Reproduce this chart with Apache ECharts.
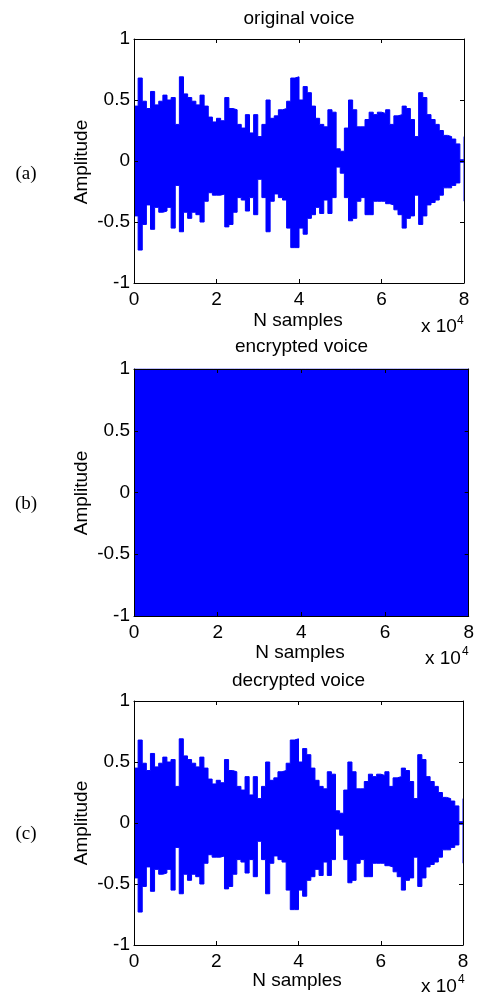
<!DOCTYPE html>
<html>
<head>
<meta charset="utf-8">
<script src="https://cdn.jsdelivr.net/npm/echarts@6/dist/echarts.min.js"></script>
<style>
  html, body { margin: 0; padding: 0; background: #fff; }
  #chart { width: 477px; height: 994px; }
</style>
</head>
<body>
<div id="chart"></div>
<script>
// one envelope value per 1000 samples, the last one sits at 80000
var sampleStep = 1000;
var xMax = 80000;
var xInterval = 20000;
var panelTitles = ['original voice', 'encrypted voice', 'decrypted voice'];
var panelTags = ['(a)', '(b)', '(c)'];

// upper / lower envelope of the original voice
var originalUpper = [
  0.45, 0.68, 0.49, 0.43, 0.57, 0.46, 0.49, 0.54, 0.50, 0.52,
  0.30, 0.69, 0.55, 0.52, 0.49, 0.46, 0.54, 0.45, 0.36, 0.32,
  0.35, 0.33, 0.52, 0.43, 0.42, 0.30, 0.27, 0.38, 0.23, 0.38,
  0.20, 0.30, 0.50, 0.35, 0.37, 0.42, 0.43, 0.49, 0.68, 0.69,
  0.50, 0.61, 0.56, 0.45, 0.35, 0.30, 0.28, 0.42, 0.40, 0.10,
  0.08, 0.27, 0.50, 0.42, 0.28, 0.28, 0.34, 0.40, 0.38, 0.40,
  0.39, 0.42, 0.30, 0.37, 0.38, 0.45, 0.43, 0.34, 0.20, 0.56,
  0.52, 0.38, 0.34, 0.30, 0.25, 0.21, 0.20, 0.18, 0.14, 0.01,
  0.20
];
var originalLower = [
  -0.45, -0.73, -0.52, -0.36, -0.56, -0.38, -0.42, -0.41, -0.38, -0.55,
  -0.20, -0.58, -0.42, -0.47, -0.42, -0.44, -0.50, -0.33, -0.26, -0.28,
  -0.28, -0.27, -0.54, -0.52, -0.42, -0.30, -0.32, -0.41, -0.30, -0.44,
  -0.15, -0.30, -0.58, -0.33, -0.27, -0.30, -0.32, -0.55, -0.71, -0.71,
  -0.55, -0.60, -0.47, -0.44, -0.38, -0.43, -0.32, -0.43, -0.30, -0.05,
  -0.10, -0.30, -0.49, -0.47, -0.33, -0.30, -0.44, -0.44, -0.33, -0.33,
  -0.33, -0.35, -0.36, -0.40, -0.44, -0.55, -0.47, -0.45, -0.28, -0.52,
  -0.45, -0.36, -0.34, -0.32, -0.28, -0.22, -0.22, -0.20, -0.18, -0.01,
  -0.33
];

// encrypted voice fills the whole range
var encryptedUpper = [
  1, 1, 1, 1, 1, 1, 1, 1, 1, 1,
  1, 1, 1, 1, 1, 1, 1, 1, 1, 1,
  1, 1, 1, 1, 1, 1, 1, 1, 1, 1,
  1, 1, 1, 1, 1, 1, 1, 1, 1, 1,
  1, 1, 1, 1, 1, 1, 1, 1, 1, 1,
  1, 1, 1, 1, 1, 1, 1, 1, 1, 1,
  1, 1, 1, 1, 1, 1, 1, 1, 1, 1,
  1, 1, 1, 1, 1, 1, 1, 1, 1, 1,
  1
];
var encryptedLower = [
  -1, -1, -1, -1, -1, -1, -1, -1, -1, -1,
  -1, -1, -1, -1, -1, -1, -1, -1, -1, -1,
  -1, -1, -1, -1, -1, -1, -1, -1, -1, -1,
  -1, -1, -1, -1, -1, -1, -1, -1, -1, -1,
  -1, -1, -1, -1, -1, -1, -1, -1, -1, -1,
  -1, -1, -1, -1, -1, -1, -1, -1, -1, -1,
  -1, -1, -1, -1, -1, -1, -1, -1, -1, -1,
  -1, -1, -1, -1, -1, -1, -1, -1, -1, -1,
  -1
];

// decrypted voice comes back the same as the original
var decryptedUpper = originalUpper.slice();
var decryptedLower = originalLower.slice();

var envelopes = [
  [originalUpper, originalLower],
  [encryptedUpper, encryptedLower],
  [decryptedUpper, decryptedLower]
];

var font = '"Liberation Sans", Arial, Helvetica, sans-serif';
var blue = '#0000ff';

var grids = [
  { left: 134, top: 39, width: 330, height: 244 },
  { left: 134, top: 369, width: 335, height: 247 },
  { left: 134, top: 701, width: 329, height: 244 }
];
// text positions for each panel
var layout = [
  { titleY: 19, nameX: 298, nameY: 321, tagY: 174, ampY: 162, x10X: 421, x10Y: 327, supX: 457, supY: 321 },
  { titleY: 347, nameX: 300, nameY: 653, tagY: 504, ampY: 493, x10X: 425, x10Y: 659, supX: 462, supY: 652 },
  { titleY: 681, nameX: 297, nameY: 981, tagY: 834, ampY: 823, x10X: 421, x10Y: 987, supX: 458, supY: 980 }
];

function toPoints(values) {
  return values.map(function (v, i) { return [i * sampleStep, v]; });
}

var xAxes = [], yAxes = [], series = [], graphics = [];

grids.forEach(function (g, i) {
  var lineStyle = { color: '#000', width: 1 };
  var frameLine = { show: true, onZero: false, lineStyle: lineStyle };
  var tick = { show: true, inside: true, length: 4, lineStyle: lineStyle };
  xAxes.push({
    gridIndex: i, type: 'value', min: 0, max: xMax, interval: xInterval, position: 'bottom',
    axisLine: frameLine, axisTick: tick,
    axisLabel: { color: '#000', fontSize: 19, fontFamily: font, margin: 7,
      formatter: function (v) { return String(v / 10000); } },
    splitLine: { show: false }, z: 5
  });
  xAxes.push({
    gridIndex: i, type: 'value', min: 0, max: xMax, interval: xInterval, position: 'top',
    axisLine: frameLine, axisTick: tick,
    axisLabel: { show: false }, splitLine: { show: false }, z: 5
  });
  yAxes.push({
    gridIndex: i, type: 'value', min: -1, max: 1, interval: 0.5, position: 'left',
    axisLine: frameLine, axisTick: tick,
    axisLabel: { color: '#000', fontSize: 19, fontFamily: font, margin: 4 },
    splitLine: { show: false }, z: 5
  });
  yAxes.push({
    gridIndex: i, type: 'value', min: -1, max: 1, interval: 0.5, position: 'right',
    axisLine: frameLine, axisTick: tick,
    axisLabel: { show: false }, splitLine: { show: false }, z: 5
  });

  // upper envelope: blue filled down to the axis bottom;
  // lower envelope: white filled down to the bottom, drawn on top, so no seam at zero
  var env = envelopes[i];
  series.push({
    type: 'line', xAxisIndex: i * 2, yAxisIndex: i * 2,
    data: toPoints(env[0]), step: 'end', symbol: 'none', silent: true, z: 2,
    lineStyle: { color: blue, width: 1 },
    areaStyle: { color: blue, opacity: 1, origin: 'start' }
  });
  series.push({
    type: 'line', xAxisIndex: i * 2, yAxisIndex: i * 2,
    data: toPoints(env[1]), step: 'end', symbol: 'none', silent: true, z: 3,
    lineStyle: { color: blue, width: 1 },
    areaStyle: { color: '#fff', opacity: 1, origin: 'start' }
  });

  var L = layout[i];
  var cx = g.left + g.width / 2;
  graphics.push(
    { type: 'text', x: cx, y: L.titleY,
      style: { text: panelTitles[i], fill: '#000', font: '19px ' + font, align: 'center', verticalAlign: 'middle' } },
    { type: 'text', x: L.nameX, y: L.nameY,
      style: { text: 'N samples', fill: '#000', font: '19px ' + font, align: 'center', verticalAlign: 'middle' } },
    { type: 'text', x: 82, y: L.ampY, rotation: Math.PI / 2,
      style: { text: 'Amplitude', fill: '#000', font: '19px ' + font, align: 'center', verticalAlign: 'middle' } },
    { type: 'text', x: 26, y: L.tagY,
      style: { text: panelTags[i], fill: '#000', font: '19px "Liberation Serif", "Times New Roman", serif', align: 'center', verticalAlign: 'middle' } },
    { type: 'text', x: L.x10X, y: L.x10Y,
      style: { text: 'x 10', fill: '#000', font: '19px ' + font, align: 'left', verticalAlign: 'middle' } },
    { type: 'text', x: L.supX, y: L.supY,
      style: { text: '4', fill: '#000', font: '12px ' + font, align: 'left', verticalAlign: 'middle' } }
  );
});

var chart = echarts.init(document.getElementById('chart'), null, { renderer: 'canvas' });
chart.setOption({
  animation: false,
  backgroundColor: '#fff',
  grid: grids,
  xAxis: xAxes,
  yAxis: yAxes,
  series: series,
  graphic: graphics
});
</script>
</body>
</html>
